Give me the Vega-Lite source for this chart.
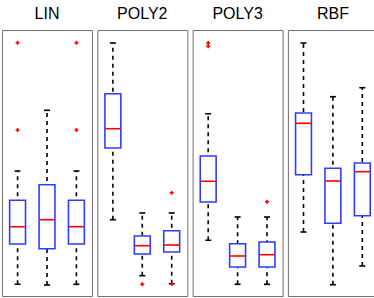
{
  "$schema": "https://vega.github.io/schema/vega-lite/v6.json",
  "padding": {"left": 1, "top": 6, "right": 0, "bottom": 0},
  "background": "white",
  "data": {
    "values": [
      {"panel": "LIN", "box": "1", "lower": 11.7, "q1": 52, "median": 69.3, "q3": 95.7, "upper": 125},
      {"panel": "LIN", "box": "2", "lower": 11, "q1": 47.3, "median": 76.3, "q3": 111.3, "upper": 185.7},
      {"panel": "LIN", "box": "3", "lower": 11.7, "q1": 52, "median": 69.3, "q3": 95.7, "upper": 125},
      {"panel": "LIN", "box": "1", "out": 253.3},
      {"panel": "LIN", "box": "1", "out": 166},
      {"panel": "LIN", "box": "3", "out": 253.3},
      {"panel": "LIN", "box": "3", "out": 166},
      {"panel": "POLY2", "box": "1", "lower": 76.3, "q1": 148, "median": 167.3, "q3": 202.3, "upper": 253},
      {"panel": "POLY2", "box": "2", "lower": 20.3, "q1": 42, "median": 50.3, "q3": 60, "upper": 83},
      {"panel": "POLY2", "box": "3", "lower": 12.3, "q1": 44, "median": 51, "q3": 65.3, "upper": 83},
      {"panel": "POLY2", "box": "2", "out": 11.7},
      {"panel": "POLY2", "box": "3", "out": 103.3},
      {"panel": "POLY2", "box": "3", "out": 12},
      {"panel": "POLY3", "box": "1", "lower": 55.7, "q1": 94, "median": 114.7, "q3": 140, "upper": 182.3},
      {"panel": "POLY3", "box": "2", "lower": 11.7, "q1": 29, "median": 40, "q3": 52.3, "upper": 79},
      {"panel": "POLY3", "box": "3", "lower": 11.7, "q1": 29, "median": 41.3, "q3": 54, "upper": 79},
      {"panel": "POLY3", "box": "1", "out": 253},
      {"panel": "POLY3", "box": "1", "out": 249.7},
      {"panel": "POLY3", "box": "3", "out": 94.3},
      {"panel": "RBF", "box": "1", "lower": 64, "q1": 121.3, "median": 172.7, "q3": 183, "upper": 253},
      {"panel": "RBF", "box": "2", "lower": 11.3, "q1": 72.7, "median": 115, "q3": 127.7, "upper": 199.3},
      {"panel": "RBF", "box": "3", "lower": 30, "q1": 80.3, "median": 124.3, "q3": 133, "upper": 208.3}
    ]
  },
  "facet": {
    "column": {
      "field": "panel",
      "type": "nominal",
      "sort": ["LIN", "POLY2", "POLY3", "RBF"],
      "header": {
        "title": null,
        "labelFontSize": 16,
        "labelFont": "Liberation Sans",
        "labelColor": "black",
        "labelPadding": 7
      }
    }
  },
  "spacing": 3.3,
  "spec": {
    "width": 90,
    "height": 266,
    "encoding": {
      "x": {
        "field": "box",
        "type": "nominal",
        "axis": null,
        "scale": {"paddingInner": 0, "paddingOuter": 0.03}
      }
    },
    "layer": [
      {
        "transform": [{"filter": "isValid(datum.q1)"}],
        "mark": {"type": "rule", "color": "black", "strokeWidth": 1.6, "strokeDash": [4, 4]},
        "encoding": {
          "y": {"field": "lower", "type": "quantitative", "axis": null, "scale": {"domain": [0, 266], "nice": false, "zero": false}},
          "y2": {"field": "upper"}
        }
      },
      {
        "transform": [{"filter": "isValid(datum.q1)"}],
        "mark": {"type": "tick", "color": "black", "size": 6, "thickness": 1.6, "opacity": 1},
        "encoding": {"y": {"field": "lower", "type": "quantitative"}}
      },
      {
        "transform": [{"filter": "isValid(datum.q1)"}],
        "mark": {"type": "tick", "color": "black", "size": 6, "thickness": 1.6, "opacity": 1},
        "encoding": {"y": {"field": "upper", "type": "quantitative"}}
      },
      {
        "transform": [{"filter": "isValid(datum.q1)"}],
        "mark": {"type": "bar", "fill": "white", "stroke": "#2f3cff", "strokeWidth": 1.6, "width": {"band": 0.54}},
        "encoding": {
          "y": {"field": "q1", "type": "quantitative"},
          "y2": {"field": "q3"}
        }
      },
      {
        "transform": [{"filter": "isValid(datum.q1)"}],
        "mark": {"type": "tick", "color": "#ff0000", "size": 15, "thickness": 1.6, "opacity": 1},
        "encoding": {"y": {"field": "median", "type": "quantitative"}}
      },
      {
        "transform": [{"filter": "isValid(datum.out)"}],
        "mark": {"type": "point", "shape": "cross", "filled": true, "color": "#ff0000", "size": 16, "opacity": 1},
        "encoding": {"y": {"field": "out", "type": "quantitative"}}
      }
    ]
  },
  "config": {
    "view": {"stroke": "#707070", "strokeWidth": 1}
  }
}
